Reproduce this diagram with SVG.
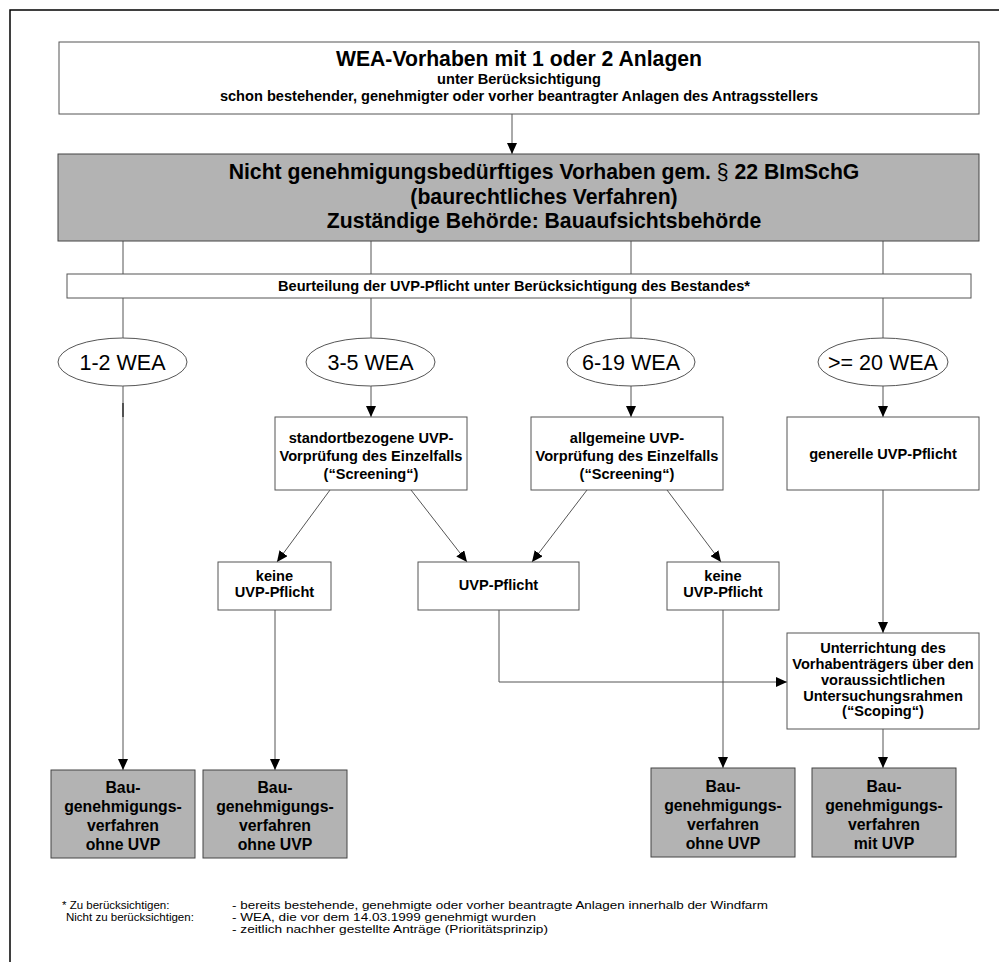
<svg xmlns="http://www.w3.org/2000/svg" width="999" height="962" viewBox="0 0 999 962">
<style>
text{font-family:"Liberation Sans",Arial,sans-serif;fill:#000;text-anchor:middle}
.t{font-size:14.6px;font-weight:bold}
.bb{font-size:15.8px;font-weight:bold}
.h{font-size:21.2px;font-weight:bold}
.e{font-size:21.5px}
.box{fill:#fff;stroke:#555;stroke-width:1}
.gbox{fill:#b3b3b3;stroke:#444;stroke-width:1}
.ln{fill:none;stroke:#555;stroke-width:1}
.ar{fill:none;stroke:#555;stroke-width:1;marker-end:url(#ah)}
.fn{font-size:11.5px;text-anchor:start}
</style>
<defs>
<marker id="ah" markerWidth="12" markerHeight="10" refX="11" refY="5" orient="auto" markerUnits="userSpaceOnUse">
<path d="M0,0 L11,5 L0,10 Z" fill="#000"/>
</marker>
</defs>
<rect width="999" height="962" fill="#fff"/>
<path d="M10,962 V10 H999" fill="none" stroke="#000" stroke-width="1.5"/>

<g id="connectors">
<line class="ar" x1="512" y1="114" x2="512" y2="154"/>
<line class="ln" x1="123" y1="241" x2="123" y2="274"/>
<line class="ln" x1="371" y1="241" x2="371" y2="274"/>
<line class="ln" x1="631" y1="241" x2="631" y2="274"/>
<line class="ln" x1="883" y1="241" x2="883" y2="274"/>
<line class="ln" x1="123" y1="298" x2="123" y2="338"/>
<line class="ln" x1="371" y1="298" x2="371" y2="338"/>
<line class="ln" x1="631" y1="298" x2="631" y2="338"/>
<line class="ln" x1="883" y1="298" x2="883" y2="338"/>
<line class="ar" x1="123" y1="386" x2="123" y2="770"/>
<line x1="123" y1="403" x2="123" y2="417" stroke="#222" stroke-width="1.3"/>
<line class="ar" x1="371" y1="386" x2="371" y2="417"/>
<line class="ar" x1="631" y1="386" x2="631" y2="417"/>
<line class="ar" x1="883" y1="386" x2="883" y2="417"/>
<line class="ar" x1="330" y1="490" x2="277" y2="562"/>
<line class="ar" x1="411" y1="490" x2="467" y2="562"/>
<line class="ar" x1="587" y1="490" x2="532" y2="562"/>
<line class="ar" x1="667" y1="490" x2="721" y2="562"/>
<line class="ar" x1="883" y1="490" x2="883" y2="633"/>
<path class="ar" d="M499,610 V682 H787"/>
<line class="ar" x1="275" y1="610" x2="275" y2="770"/>
<line class="ar" x1="723" y1="610" x2="723" y2="768"/>
<line class="ar" x1="883" y1="729" x2="883" y2="768"/>
</g>

<g id="top">
<rect class="box" x="59" y="42" width="920" height="72"/>
<text class="h" x="519" y="66">WEA-Vorhaben mit 1 oder 2 Anlagen</text>
<text class="t" x="519" y="84">unter Berücksichtigung</text>
<text class="t" x="519" y="101">schon bestehender, genehmigter oder vorher beantragter Anlagen des Antragsstellers</text>
</g>

<g id="main">
<rect class="gbox" x="58" y="154" width="921" height="87"/>
<text class="h" x="544" y="179">Nicht genehmigungsbedürftiges Vorhaben gem. <tspan font-weight="normal">§</tspan> 22 BImSchG</text>
<text class="h" x="544" y="204">(baurechtliches Verfahren)</text>
<text class="h" x="544" y="228">Zuständige Behörde: Bauaufsichtsbehörde</text>
</g>

<g id="beurteilung">
<rect class="box" x="67" y="274" width="904" height="24"/>
<text class="t" x="514" y="291">Beurteilung der UVP-Pflicht unter Berücksichtigung des Bestandes*</text>
</g>

<g id="e1"><ellipse class="box" cx="122.5" cy="362" rx="64.5" ry="24"/><text class="e" x="122.5" y="370">1-2 WEA</text></g>
<g id="e2"><ellipse class="box" cx="370.5" cy="362" rx="64.5" ry="24"/><text class="e" x="370.5" y="370">3-5 WEA</text></g>
<g id="e3"><ellipse class="box" cx="631" cy="362" rx="64" ry="24"/><text class="e" x="631" y="370">6-19 WEA</text></g>
<g id="e4"><ellipse class="box" cx="883" cy="362" rx="65" ry="24"/><text class="e" x="883" y="370">&gt;= 20 WEA</text></g>

<g id="standort">
<rect class="box" x="275" y="417" width="192" height="73"/>
<text class="t" x="371" y="443">standortbezogene UVP-</text>
<text class="t" x="371" y="461">Vorprüfung des Einzelfalls</text>
<text class="t" x="371" y="479">(“Screening“)</text>
</g>
<g id="allgemein">
<rect class="box" x="531" y="417" width="192" height="73"/>
<text class="t" x="627" y="443">allgemeine UVP-</text>
<text class="t" x="627" y="461">Vorprüfung des Einzelfalls</text>
<text class="t" x="627" y="479">(“Screening“)</text>
</g>
<g id="generell">
<rect class="box" x="787" y="417" width="192" height="73"/>
<text class="t" x="883" y="459">generelle UVP-Pflicht</text>
</g>

<g id="keine1">
<rect class="box" x="218" y="562" width="113" height="48"/>
<text class="t" x="274.5" y="581">keine</text>
<text class="t" x="274.5" y="597">UVP-Pflicht</text>
</g>
<g id="uvp">
<rect class="box" x="418" y="562" width="161" height="48"/>
<text class="t" x="498.5" y="590">UVP-Pflicht</text>
</g>
<g id="keine2">
<rect class="box" x="667" y="562" width="112" height="48"/>
<text class="t" x="723" y="581">keine</text>
<text class="t" x="723" y="597">UVP-Pflicht</text>
</g>

<g id="scoping">
<rect class="box" x="787" y="633" width="192" height="96"/>
<text class="t" x="883" y="653">Unterrichtung des</text>
<text class="t" x="883" y="669">Vorhabenträgers über den</text>
<text class="t" x="883" y="685">voraussichtlichen</text>
<text class="t" x="883" y="701">Untersuchungsrahmen</text>
<text class="t" x="883" y="716">(“Scoping“)</text>
</g>

<g id="bg1">
<rect class="gbox" x="51" y="770" width="144" height="88"/>
<text class="bb" x="123" y="793">Bau-</text>
<text class="bb" x="123" y="812">genehmigungs-</text>
<text class="bb" x="123" y="831">verfahren</text>
<text class="bb" x="123" y="850">ohne UVP</text>
</g>
<g id="bg2">
<rect class="gbox" x="203" y="770" width="144" height="88"/>
<text class="bb" x="275" y="793">Bau-</text>
<text class="bb" x="275" y="812">genehmigungs-</text>
<text class="bb" x="275" y="831">verfahren</text>
<text class="bb" x="275" y="850">ohne UVP</text>
</g>
<g id="bg3">
<rect class="gbox" x="651" y="768" width="144" height="89"/>
<text class="bb" x="723" y="792">Bau-</text>
<text class="bb" x="723" y="811">genehmigungs-</text>
<text class="bb" x="723" y="830">verfahren</text>
<text class="bb" x="723" y="849">ohne UVP</text>
</g>
<g id="bg4">
<rect class="gbox" x="812" y="768" width="144" height="89"/>
<text class="bb" x="884" y="792">Bau-</text>
<text class="bb" x="884" y="811">genehmigungs-</text>
<text class="bb" x="884" y="830">verfahren</text>
<text class="bb" x="884" y="849">mit UVP</text>
</g>

<g id="footnote">
<text class="fn" x="62" y="909">* Zu berücksichtigen:</text>
<text class="fn" x="66" y="921">Nicht zu berücksichtigen:</text>
<text class="fn" x="232" y="909" textLength="536" lengthAdjust="spacingAndGlyphs">- bereits bestehende, genehmigte oder vorher beantragte Anlagen innerhalb der Windfarm</text>
<text class="fn" x="232" y="921" textLength="304" lengthAdjust="spacingAndGlyphs">- WEA, die vor dem 14.03.1999 genehmigt wurden</text>
<text class="fn" x="232" y="933" textLength="316" lengthAdjust="spacingAndGlyphs">- zeitlich nachher gestellte Anträge (Prioritätsprinzip)</text>
</g>
</svg>
